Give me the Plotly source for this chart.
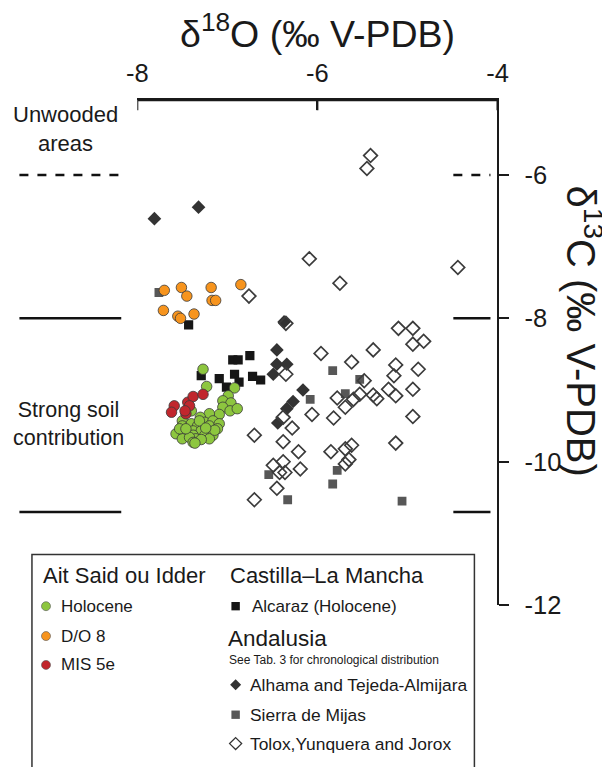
import plotly.graph_objects as go

# Page/figure geometry and the measured mapping from page px to the photographed picture
OX, OY = 8, 8            # default body margin of the page
FW, FH = 614, 771        # figure size in px
AX, SX = 12.4, 0.961     # picture_x = AX + SX * page_x
AY, SY = -0.6, 0.986     # picture_y = AY + SY * page_y
FONT = "Arial, Liberation Sans, sans-serif"

# ---------------- data (d18O, d13C in ‰ V-PDB) ----------------
holocene_d18o = [-7.27, -7.23, -6.92, -6.99, -7.05, -6.96, -7.05, -6.97, -6.89, -7.09, -7.20, -7.30, -7.40, -7.50,
                 -7.25, -7.16, -7.50, -7.40, -7.33, -7.20, -7.09, -7.38, -7.29, -7.20, -7.11, -7.57, -7.48, -7.38,
                 -7.25, -7.16, -7.50, -7.35, -7.20, -7.29, -7.42, -7.38, -7.36, -7.53, -7.46, -7.31, -7.14, -7.24]
holocene_d13c = [-8.71, -8.95, -8.97, -9.08, -9.15, -9.18, -9.24, -9.29, -9.26, -9.34, -9.33, -9.38, -9.29, -9.43,
                 -9.45, -9.43, -9.50, -9.47, -9.50, -9.50, -9.47, -9.57, -9.57, -9.59, -9.54, -9.61, -9.61, -9.63,
                 -9.63, -9.63, -9.68, -9.68, -9.68, -9.69, -9.66, -9.73, -9.74, -9.54, -9.54, -9.43, -9.56, -9.53]

do8_d18o = [-7.70, -7.51, -7.45, -7.18, -7.17, -7.13, -6.85, -7.71, -7.55, -7.52, -7.37]
do8_d13c = [-7.61, -7.57, -7.69, -7.57, -7.75, -7.75, -7.53, -7.89, -7.97, -8.00, -7.94]

mis5e_d18o = [-7.59, -7.62, -7.46, -7.44, -7.38, -7.42, -7.27, -7.47]
mis5e_d13c = [-9.22, -9.31, -9.33, -9.17, -9.09, -9.22, -9.06, -9.29]

alcaraz_d18o = [-7.43, -6.94, -6.88, -6.75, -7.29, -7.09, -6.92, -6.87, -7.01, -6.72, -6.63]
alcaraz_d13c = [-8.09, -8.58, -8.58, -8.52, -8.80, -8.84, -8.78, -8.89, -8.96, -8.81, -8.86]

alhama_d18o = [-7.81, -7.32, -6.37, -6.45, -6.45, -6.34, -6.49, -6.16, -6.27, -6.34, -6.44]
alhama_d13c = [-6.61, -6.45, -8.05, -8.44, -8.64, -8.64, -8.78, -9.00, -9.16, -9.26, -9.46]

mijas_d18o = [-7.76, -5.83, -5.53, -5.69, -6.08, -6.54, -5.78, -5.83, -6.33, -5.06]
mijas_d13c = [-7.64, -8.73, -8.85, -9.05, -9.13, -10.18, -10.12, -10.31, -10.53, -10.55]

tolox_d18o = [-5.41, -5.45, -6.09, -5.75, -4.44, -6.76, -6.35, -5.96, -5.62, -5.38, -5.10, -4.94, -4.82, -4.94,
              -5.13, -4.88, -5.15, -5.48, -6.35, -4.94, -5.21, -5.13, -5.38, -5.34, -5.53, -5.60, -5.78, -5.69,
              -6.06, -5.82, -6.38, -6.28, -4.94, -6.70, -6.38, -6.21, -5.85, -5.69, -5.62, -5.13, -6.38, -6.49,
              -6.19, -6.42, -6.36, -5.65, -5.69, -6.45, -6.70]
tolox_d13c = [-5.73, -5.91, -7.17, -7.51, -7.29, -7.69, -8.07, -8.49, -8.61, -8.44, -8.14, -8.14, -8.32, -8.36,
              -8.65, -8.71, -8.80, -8.87, -8.78, -8.99, -8.99, -9.08, -9.07, -9.12, -9.06, -9.13, -9.11, -9.24,
              -9.34, -9.39, -9.38, -9.53, -9.37, -9.63, -9.72, -9.86, -9.86, -9.82, -9.77, -9.74, -10.00, -10.05,
              -10.10, -10.15, -10.15, -9.97, -10.03, -10.37, -10.53]

x_ticks = [-8, -6, -4]
y_ticks = [-6, -8, -10, -12]
x_range = [-8, -4]
y_range = [-12, -4.96]
threshold_d13c = [-6, -8, -10.7]
threshold_dash = ["9px,9px", "solid", "solid"]


# picture pixel -> paper fraction
def px(X):
    return ((X - AX) / SX - OX) / FW


def py(Y):
    return 1 - ((Y - AY) / SY - OY) / FH


fig = go.Figure()


def add(xs, ys, marker):
    fig.add_trace(go.Scatter(x=xs, y=ys, mode="markers", marker=marker, showlegend=False, hoverinfo="x+y"))


outline = dict(width=0.8, color="#3a3a3a")
add(mijas_d18o, mijas_d13c, dict(symbol="square", size=8.8, color="#575757", line=dict(width=0)))
add(alhama_d18o, alhama_d13c, dict(symbol="diamond", size=10.5, color="#333333", line=dict(width=0)))
add(tolox_d18o, tolox_d13c, dict(symbol="diamond-open", size=10.5, color="#3c3c3c", line=dict(width=1.7)))
add(alcaraz_d18o, alcaraz_d13c, dict(symbol="square", size=9.2, color="#161616", line=dict(width=0)))
add(holocene_d18o, holocene_d13c, dict(symbol="circle", size=10.5, color="#8dc63f", line=outline))
add(mis5e_d18o, mis5e_d13c, dict(symbol="circle", size=10.5, color="#c1272d", line=outline))
add(do8_d18o, do8_d13c, dict(symbol="circle", size=10.5, color="#f7941d", line=outline))

shapes = []
axis_line = dict(color="#1a1a1a", width=2)
# top axis line and its inward ticks
shapes.append(dict(type="line", xref="x", yref="paper", x0=x_range[0], x1=x_range[1], y0=py(100), y1=py(100),
                   line=axis_line))
for tv in x_ticks:
    shapes.append(dict(type="line", xref="x", yref="paper", x0=tv, x1=tv, y0=py(100), y1=py(110),
                       line=axis_line))
# threshold lines left and right of the plot
for yv, dsh in zip(threshold_d13c, threshold_dash):
    for (xa, xb) in [(20.5, 122), (453, 490)]:
        shapes.append(dict(type="line", xref="paper", yref="y", x0=px(xa), x1=px(xb), y0=yv, y1=yv,
                           line=dict(color="#111111", width=2.5, dash=dsh)))

# legend box
shapes.append(dict(type="rect", xref="paper", yref="paper", x0=px(33), x1=px(474), y0=py(790), y1=py(556),
                   line=dict(color="#333333", width=1.5), fillcolor="rgba(0,0,0,0)"))


def circ(cx, cy, r, color):
    shapes.append(dict(type="circle", xref="paper", yref="paper", x0=px(cx - r), x1=px(cx + r),
                       y0=py(cy + r), y1=py(cy - r), fillcolor=color, line=dict(width=0.6, color="#555555")))


def sq(cx, cy, s, color):
    shapes.append(dict(type="rect", xref="paper", yref="paper", x0=px(cx - s), x1=px(cx + s),
                       y0=py(cy + s), y1=py(cy - s), fillcolor=color, line=dict(width=0)))


def dia(cx, cy, r, fill, lw):
    path = "M{},{} L{},{} L{},{} L{},{} Z".format(px(cx), py(cy - r), px(cx + r), py(cy), px(cx), py(cy + r),
                                                   px(cx - r), py(cy))
    shapes.append(dict(type="path", xref="paper", yref="paper", path=path,
                       fillcolor=fill, line=dict(width=lw, color="#333333")))


circ(47, 608, 4.5, "#8dc63f")
circ(47, 638, 4.5, "#f7941d")
circ(47, 667, 4.5, "#c1272d")
sq(236, 608, 4.2, "#161616")
dia(236, 687, 5.5, "#333333", 0)
sq(236, 717, 4.2, "#575757")
dia(236, 746, 6, "rgba(0,0,0,0)", 1.3)

annotations = []


def txt(x, y, s, size, anchor="left", angle=0, align="left"):
    annotations.append(dict(x=px(x), y=py(y), xref="paper", yref="paper", text=s, showarrow=False,
                            xanchor=anchor, yanchor="middle", textangle=angle, align=align,
                            font=dict(family=FONT, size=size, color="#1a1a1a")))


txt(318, 30, "δ<sup>18</sup>O (‰ V-PDB)", 37.5, anchor="center")
txt(583, 332, "δ<sup>13</sup>C (‰ V-PDB)", 40, anchor="center", angle=90)
txt(66, 129, "Unwooded<br>areas", 22, anchor="center", align="center")
txt(69, 425, "Strong soil<br>contribution", 21.5, anchor="center", align="center")

txt(42, 577, "Ait Said ou Idder", 22)
txt(60, 608, "Holocene", 17)
txt(60, 638, "D/O 8", 17)
txt(60, 667, "MIS 5e", 17)
txt(228, 577, "Castilla–La Mancha", 22)
txt(250, 608, "Alcaraz (Holocene)", 17)
txt(226, 640, "Andalusia", 22.5)
txt(227, 662, "See Tab. 3 for chronological distribution", 12)
txt(248, 687, "Alhama and Tejeda-Almijara", 17.4)
txt(248, 717, "Sierra de Mijas", 17.4)
txt(248, 746, "Tolox,Yunquera and Jorox", 17.4)

fig.update_layout(
    width=FW, height=FH,
    margin=dict(l=0, r=0, t=0, b=0),
    paper_bgcolor="#ffffff", plot_bgcolor="rgba(0,0,0,0)",
    font=dict(family=FONT, color="#1a1a1a"),
    xaxis=dict(domain=[px(138), px(497)], range=x_range, side="top", showline=True, linecolor="#1a1a1a",
               linewidth=2, ticks="inside", ticklen=10, tickwidth=2, tickcolor="#1a1a1a",
               tickvals=x_ticks, ticktext=[str(v) for v in x_ticks], tickfont=dict(size=25.5, family=FONT),
               showgrid=False, zeroline=False, ticklabelstandoff=6),
    yaxis=dict(domain=[py(607), py(100)], range=y_range, side="right", showline=True,
               linecolor="#1a1a1a", linewidth=2, ticks="outside", ticklen=10, tickwidth=2, tickcolor="#1a1a1a",
               tickvals=y_ticks, ticktext=[str(v) for v in y_ticks], tickfont=dict(size=25.5, family=FONT),
               showgrid=False, zeroline=False, ticklabelstandoff=10),
    shapes=shapes,
    annotations=annotations,
)

fig.write_html("out.html")
